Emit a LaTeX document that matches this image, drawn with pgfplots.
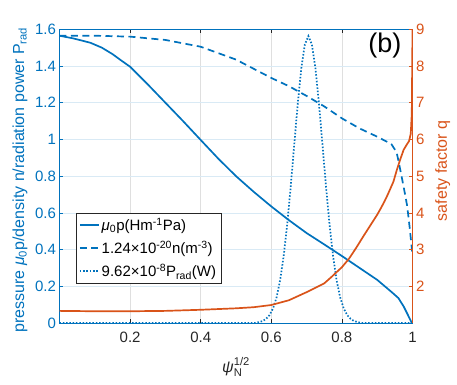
\documentclass[border=0pt]{standalone}
\usepackage{fontspec}
\setmainfont{Liberation Sans}
\usepackage{amsmath}
\usepackage{pgfplots}
\pgfplotsset{compat=1.18}
\definecolor{mblue}{HTML}{0072BD}
\definecolor{morange}{HTML}{D95319}
\definecolor{axgray}{HTML}{262626}
\definecolor{gridgray}{HTML}{DFDFDF}
\definecolor{gridblue}{HTML}{D9EAF5}

\newcommand{\tickfont}{\fontsize{15bp}{18bp}\selectfont}
\newcommand{\labfont}{\fontsize{16bp}{19bp}\selectfont}

\begin{document}
\begin{tikzpicture}
\pgfplotsset{
  common/.style={
    scale only axis, width=353bp, height=293.7bp,
    xmin=0, xmax=1,
    tick align=inside, major tick length=4bp,
    ticklabel style={font=\tickfont},
    /pgf/number format/assume math mode=true,
    /pgf/number format/.cd, fixed, precision=1,
  },
}
% left axis: pressure, density, radiation power
\begin{axis}[common,
    ymin=0, ymax=1.6,
    xtick={0.2,0.4,0.6,0.8,1},
    ytick={0,0.2,...,1.6},
    xtick pos=both, ytick pos=left,
    x axis line style={axgray, line width=0.6bp},
    y axis line style={mblue, line width=0.6bp},
    xtick style={axgray, line width=0.6bp},
    ytick style={mblue, line width=0.6bp},
    xticklabel style={text=axgray, yshift=-6bp},
    yticklabel style={text=mblue},
    grid=major,
    x grid style={gridgray, line width=0.6bp},
    y grid style={gridblue, line width=0.6bp},
    clip=false,
    xlabel={\textit{ψ}$_{\text{N}}^{\text{1/2}}$},
    every axis x label/.style={at={(axis description cs:0.5,-0.15)}, anchor=center, font=\labfont, text=axgray},
    ylabel={pressure \textit{μ}$_{\text{0}}$p/density n/radiation power P$_{\text{rad}}$},
    every axis y label/.style={at={(axis description cs:-0.112,0.487)}, anchor=center, rotate=90, font=\labfont, text=mblue},
    legend style={at={(axis description cs:0.046,0.3755)}, anchor=north west,
      draw=axgray, line width=0.6bp, fill=white, font=\tickfont,
      cells={anchor=west}, row sep=5bp, inner sep=3bp},
    legend image code/.code={\draw[#1] (0bp,0bp) -- (19bp,0bp);},
]
\addplot[mblue, line width=1.7bp] coordinates {
 (0,1.565) (0.04,1.55) (0.087,1.527) (0.12,1.50) (0.15,1.465) (0.175,1.43)
 (0.2,1.396) (0.25,1.30) (0.3,1.20) (0.35,1.10) (0.4,0.997) (0.45,0.895)
 (0.5,0.80) (0.55,0.715) (0.6,0.635) (0.65,0.56) (0.7,0.49) (0.75,0.428)
 (0.8,0.365) (0.85,0.30) (0.9,0.235) (0.94,0.17) (0.96,0.136) (0.975,0.09)
 (0.989,0.036) (0.998,0.0)
};
\addlegendentry{\textit{μ}$_{\text{0}}$p(Hm$^{\text{-1}}$Pa)}
\addplot[mblue, line width=1.7bp, dash pattern=on 7bp off 4.5bp] coordinates {
 (0,1.565) (0.1,1.565) (0.2,1.56) (0.3,1.542) (0.4,1.505) (0.5,1.435)
 (0.6,1.335) (0.65,1.29) (0.7,1.237) (0.75,1.18) (0.8,1.115) (0.85,1.06)
 (0.9,1.015) (0.94,0.975) (0.955,0.93) (0.96,0.885) (0.97,0.79) (0.98,0.69)
 (0.985,0.636) (0.992,0.52) (1.0,0.37)
};
\addlegendentry{1.24×10$^{\text{-20}}$n(m$^{\text{-3}}$)}
\addplot[mblue, line width=1.7bp, dash pattern=on 1.5bp off 1.8bp] coordinates {
 (0,0) (0.555,0) (0.565,0.005) (0.575,0.010) (0.585,0.022) (0.595,0.043)
 (0.605,0.080) (0.615,0.140) (0.625,0.233) (0.635,0.364) (0.645,0.536)
 (0.655,0.743) (0.665,0.971) (0.675,1.196) (0.685,1.388) (0.695,1.517)
 (0.705,1.563) (0.715,1.517) (0.725,1.388) (0.735,1.196) (0.745,0.971)
 (0.755,0.743) (0.765,0.536) (0.775,0.364) (0.785,0.233) (0.795,0.140)
 (0.805,0.080) (0.815,0.043) (0.825,0.022) (0.835,0.010) (0.845,0.005)
 (0.855,0) (1,0)
};
\addlegendentry{9.62×10$^{\text{-8}}$P$_{\text{rad}}$(W)}
\node[font=\fontsize{27bp}{30bp}\selectfont, text=black] at (axis description cs:0.922,0.946) {(b)};
\end{axis}
% right axis: safety factor
\begin{axis}[common,
    ymin=1, ymax=9,
    ytick={2,...,9},
    axis x line=none, axis y line*=right,
    y axis line style={morange, line width=0.6bp},
    ytick style={morange, line width=0.6bp},
    yticklabel style={text=morange},
    /pgf/number format/.cd, fixed, precision=0,
    /pgfplots/.cd,
    ylabel={safety factor q},
    every axis y label/.style={at={(axis description cs:1.086,0.518)}, anchor=center, rotate=90, font=\labfont, text=morange},
]
\addplot[morange, line width=1.7bp] coordinates {
 (0,1.33) (0.1,1.32) (0.2,1.32) (0.3,1.33) (0.4,1.36) (0.5,1.40) (0.55,1.43)
 (0.6,1.49) (0.65,1.62) (0.7,1.84) (0.75,2.08) (0.77,2.25) (0.8,2.52)
 (0.82,2.75) (0.84,3.04) (0.86,3.35) (0.88,3.65) (0.9,3.95) (0.91,4.12)
 (0.92,4.3) (0.93,4.5) (0.946,4.85) (0.955,5.15) (0.965,5.45) (0.975,5.72)
 (0.985,5.88) (0.99,5.95) (0.995,6.15) (0.998,6.7) (1.0,9.0)
};
\end{axis}
\pgfresetboundingbox
\useasboundingbox (-59.5bp,-62bp) rectangle (397.5bp,323bp);
\end{tikzpicture}
\end{document}
